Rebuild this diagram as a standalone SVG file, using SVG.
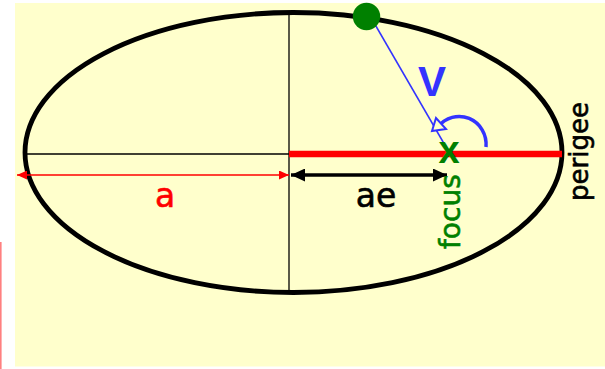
<svg xmlns="http://www.w3.org/2000/svg" width="605" height="369" viewBox="0 0 605 369">
<style>
.lbl{font-family:"DejaVu Sans","Liberation Sans",sans-serif;stroke-width:0.6}
.thin{stroke:#000;stroke-width:1.3;fill:none}
</style>
<defs>
<marker id="ahRed" markerUnits="userSpaceOnUse" markerWidth="11" markerHeight="9" refX="10" refY="4.5" orient="auto-start-reverse"><path d="M0,0 L10,4.5 L0,9 z" fill="#ff0000"/></marker>
<marker id="ahBlack" markerUnits="userSpaceOnUse" markerWidth="15" markerHeight="13" refX="14" refY="6.5" orient="auto-start-reverse"><path d="M0,0 L14,6.5 L0,13 z" fill="#000"/></marker>
</defs>
<rect x="0" y="0" width="605" height="369" fill="#ffffff"/>
<rect x="15" y="3" width="590" height="363.5" fill="#ffffcc"/>
<rect x="0" y="242" width="1.6" height="127" fill="#ff8080"/>
<g id="orbit">
<ellipse cx="293.5" cy="152.5" rx="268.5" ry="140" fill="none" stroke="#000" stroke-width="4.8"/>
</g>
<g id="connectors">
<line class="thin" x1="289" y1="11" x2="289" y2="292"/>
<line class="thin" x1="25" y1="154" x2="289" y2="154"/>
<line x1="289" y1="154" x2="562" y2="154" stroke="#ff0000" stroke-width="6.5"/>
<line x1="17" y1="175" x2="289" y2="175" stroke="#ff0000" stroke-width="1.6" marker-start="url(#ahRed)" marker-end="url(#ahRed)"/>
<line x1="291" y1="175" x2="447" y2="175" stroke="#000" stroke-width="3.5" marker-start="url(#ahBlack)" marker-end="url(#ahBlack)"/>
<line x1="373" y1="21" x2="446" y2="147" stroke="#3333ff" stroke-width="1.5"/>
<path d="M486,147 A27,28 0 0 0 438,127" fill="none" stroke="#3333ff" stroke-width="3.5"/>
<polygon points="432,131 436,118 446,129" fill="#ffffcc" stroke="#3333ff" stroke-width="2" stroke-linejoin="miter"/>
</g>
<g id="satellite">
<circle cx="366.5" cy="16.5" r="13.7" fill="#008000"/>
</g>
<g id="focus">
<text x="449" y="163" font-family="Liberation Sans,sans-serif" font-weight="bold" font-size="38" fill="#008000" text-anchor="middle">x</text>
<text class="lbl" transform="translate(460,249) rotate(-90)" font-size="28" fill="#008000" stroke="#008000">focus</text>
</g>
<g id="labels">
<text x="432" y="96" font-family="Liberation Sans,sans-serif" font-weight="bold" font-size="42" fill="#3333ff" text-anchor="middle">V</text>
<text class="lbl" x="165" y="207" font-size="33" fill="#ff0000" stroke="#ff0000" text-anchor="middle">a</text>
<text class="lbl" x="376" y="207" font-size="33" fill="#000" stroke="#000" text-anchor="middle">ae</text>
<text class="lbl" transform="translate(588,201) rotate(-90)" font-size="26" fill="#000" stroke="#000">perigee</text>
</g>
</svg>
